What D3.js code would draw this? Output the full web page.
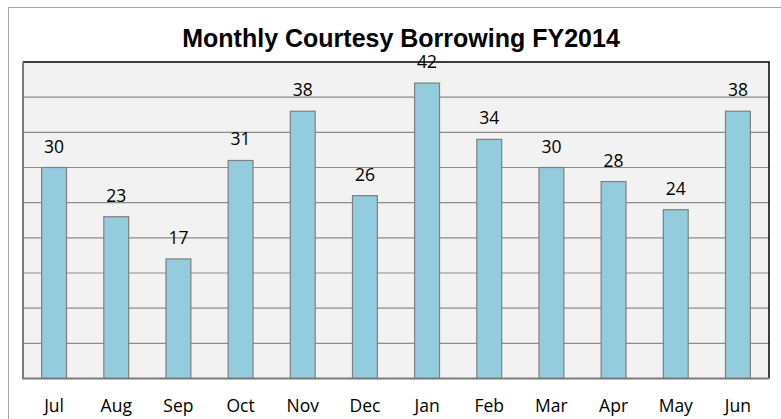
<!DOCTYPE html>
<html>
<head>
<meta charset="utf-8">
<script src="https://cdn.jsdelivr.net/npm/d3@7"></script>
<style>
  body { margin: 0; background: #fff; }
</style>
</head>
<body>
<script>
var months = ["Jul", "Aug", "Sep", "Oct", "Nov", "Dec", "Jan", "Feb", "Mar", "Apr", "May", "Jun"];
var borrowing = [30, 23, 17, 31, 38, 26, 42, 34, 30, 28, 24, 38];
var yTicks = [0, 5, 10, 15, 20, 25, 30, 35, 40, 45];
var title = "Monthly Courtesy Borrowing FY2014";

var svg_width  = 781;
var svg_height = 419;

var svg = d3.select('body').append('svg')
            .attr('width', svg_width)
            .attr('height', svg_height);

// outer chart frame (runs off the right and bottom edges)
svg.append("rect")
   .attr("x", 8.5).attr("y", 7.5)
   .attr("width", 800).attr("height", 430)
   .attr("fill", "#fff")
   .attr("stroke", "#a6a6a6");

var plot = {left: 23, right: 769, top: 62, bottom: 378.5};

var x = d3.scaleBand()
          .domain(months)
          .range([plot.left, plot.right])
          .paddingInner(0.6)
          .paddingOuter(0.3);

var y = d3.scaleLinear()
          .domain([0, 45])
          .range([plot.bottom, plot.top]);

svg.append("rect")
   .attr("x", plot.left).attr("y", plot.top)
   .attr("width", plot.right - plot.left)
   .attr("height", plot.bottom - plot.top)
   .attr("fill", "#f2f2f2");

// gridlines
svg.append("g")
   .attr("class", "grid")
   .selectAll("line")
   .data(yTicks.slice(1, -1))
   .enter().append("line")
   .attr("x1", plot.left).attr("x2", plot.right)
   .attr("y1", d => y(d)).attr("y2", d => y(d))
   .attr("stroke", "#8c8c8c")
   .attr("stroke-width", 1.2);

// bars
svg.append("g")
   .selectAll("rect")
   .data(borrowing)
   .enter().append("rect")
   .attr("x", (d, i) => x(months[i]))
   .attr("y", d => y(d))
   .attr("width", x.bandwidth())
   .attr("height", d => y(0) - y(d))
   .attr("fill", "#93cddd")
   .attr("stroke", "#7f7f7f")
   .attr("stroke-width", 1.2);

// plot border: black top/right, gray axes left/bottom
svg.append("path")
   .attr("d", `M${plot.left},${plot.top}H${plot.right}V${plot.bottom}`)
   .attr("fill", "none")
   .attr("stroke", "#000")
   .attr("stroke-width", 1.5);

svg.append("path")
   .attr("d", `M${plot.left},${plot.top}V${plot.bottom}H${plot.right}`)
   .attr("fill", "none")
   .attr("stroke", "#7a7a7a")
   .attr("stroke-width", 2);

// data labels
svg.append("g")
   .selectAll("text")
   .data(borrowing)
   .enter().append("text")
   .attr("x", (d, i) => x(months[i]) + x.bandwidth() / 2)
   .attr("y", d => y(d) - 15)
   .attr("text-anchor", "middle")
   .attr("font-family", "'Open Sans', sans-serif")
   .attr("font-size", 17.5)
   .attr("fill", "#000")
   .text(d => d);

// category axis
var xAxis = svg.append("g")
   .attr("transform", `translate(0,${plot.bottom})`)
   .call(d3.axisBottom(x).tickSize(0).tickPadding(21));
xAxis.select(".domain").remove();
xAxis.selectAll("text")
     .attr("font-family", "'Open Sans', sans-serif")
     .attr("font-size", 17.5)
     .attr("fill", "#000");

svg.append("text")
   .attr("x", 401)
   .attr("y", 47)
   .attr("text-anchor", "middle")
   .attr("font-family", "'Liberation Sans', Arial, sans-serif")
   .attr("font-weight", "bold")
   .attr("font-size", 25)
   .text(title);
</script>
</body>
</html>
